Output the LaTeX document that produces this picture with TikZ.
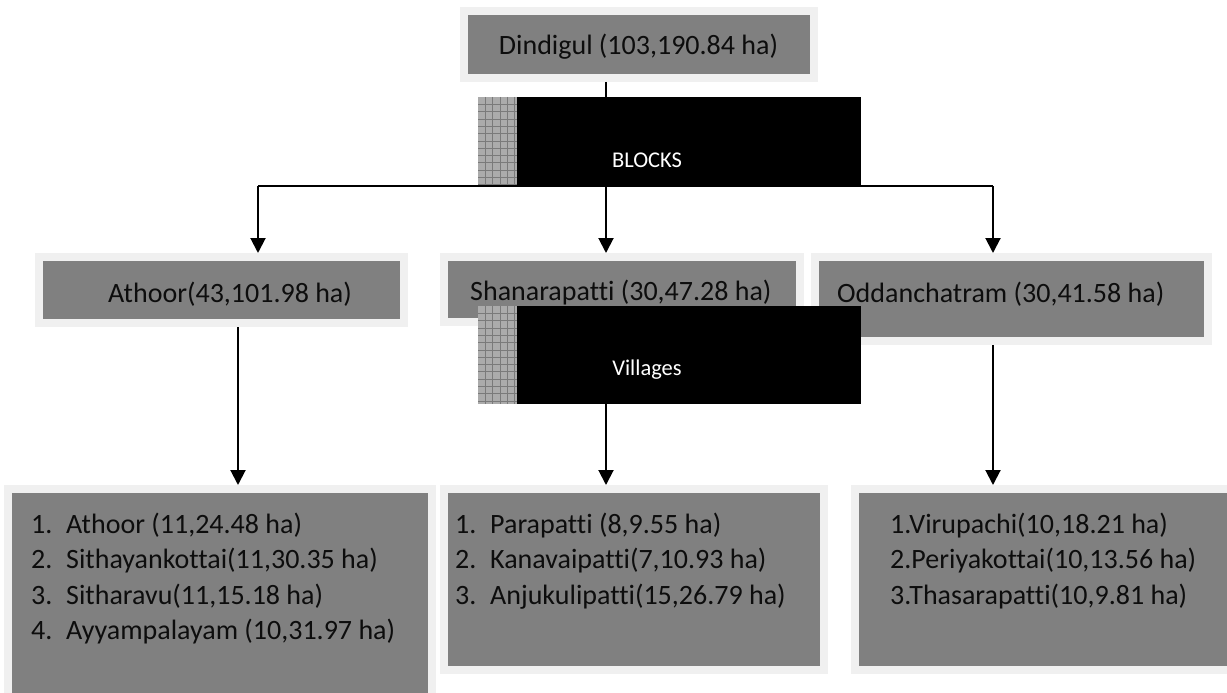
\documentclass[tikz,border=0pt]{standalone}
\usepackage{fontspec}
\setmainfont{Carlito}[Ligatures=NoCommon]
\usetikzlibrary{arrows.meta,positioning,calc}
\definecolor{boxgray}{HTML}{808080}
\definecolor{boxedge}{HTML}{F0F0F0}
\definecolor{hatch}{HTML}{ABABAB}
\definecolor{hatchline}{HTML}{7A7A7A}

\begin{document}
\begin{tikzpicture}[x=1pt,y=-1pt,
    box/.style={rectangle,draw=boxedge,line width=8pt,fill=boxgray,inner sep=0pt},
    bar/.style={rectangle,fill=black,inner sep=0pt},
    txt/.style={inner sep=0pt,text=black!95,font=\fontsize{28}{35.5}\selectfont},
    bartxt/.style={inner sep=0pt,text=white,font=\fontsize{22.5}{27}\selectfont},
    arr/.style={-{Triangle[length=15pt,width=15pt]},line width=2pt},
    ln/.style={line width=1.6pt}]
    \useasboundingbox (0,0) rectangle (1227,693);

    % Top box
    \node[box,minimum width=350.5pt,minimum height=66.5pt] (dindigul) at (638.75,44.75) {};

    % Block boxes
    \node[box,minimum width=364.5pt,minimum height=66pt] (athoor) at (221.25,290) {};
    \node[box,minimum width=355.5pt,minimum height=65pt] (shanar) at (621.75,289.5) {};
    \node[box,minimum width=393.5pt,minimum height=84pt] (oddan) at (1011.25,299) {};

    % Village boxes
    \node[box,minimum width=423.5pt,minimum height=235pt] (athoorv) at (219.75,606.5) {};
    \node[box,minimum width=380pt,minimum height=181pt] (shanarv) at (634,579.5) {};
    \node[box,minimum width=377pt,minimum height=181pt] (oddanv) at (1043.5,579.5) {};

    % Branch points
    \coordinate (split) at (606,186);
    \coordinate (bl) at (258,186);
    \coordinate (br) at (993,186);
    \coordinate (xl) at (238,0);

    % Connectors
    \draw[ln] (dindigul.south -| split) -- (split);
    \draw[ln] (bl) -- (br);
    \draw[arr] (bl) -- (bl |- athoor.north);
    \draw[arr] (split) -- (split |- shanar.north);
    \draw[arr] (br) -- (br |- oddan.north);
    \draw[arr] (athoor.south -| xl) -- (athoorv.north -| xl);
    \draw[arr] (oddan.south -| br) -- (oddanv.north -| br);

    % Banners
    \node[bar,minimum width=344pt,minimum height=88pt] (blocks) at (689,141) {};
    \node[bar,minimum width=344pt,minimum height=98pt] (villages) at (689,355) {};
    \draw[arr] (villages.south -| split) -- (shanarv.north -| split);
    \foreach \y/\h/\n in {97/185/12,306/404/13} {
        \fill[hatch] (478,\y) rectangle (517,\h);
        \foreach \k in {1,...,5}
            \draw[hatchline,line width=0.6pt] (478+7.3*\k,\y) -- (478+7.3*\k,\h);
        \foreach \k in {1,...,\n}
            \draw[hatchline,line width=0.6pt] (478,\y+7.3*\k) -- (517,\y+7.3*\k);
    }

    % Labels
    \node[txt,anchor=base] (dindigult) at (638.5,55) {Dindigul (103,190.84 ha)};
    \node[bartxt,anchor=base] (blockst) at (647,167) {BLOCKS};
    \node[txt,anchor=base west] (athoort) at (108,302) {Athoor(43,101.98 ha)};
    \node[txt,anchor=base west] (shanart) at (470,300) {Shanarapatti (30,47.28 ha)};
    \node[txt,anchor=base west] (oddant) at (837,302) {Oddanchatram (30,41.58 ha)};
    \node[bartxt,anchor=base] (villagest) at (647,375) {Villages};

    % Village lists (anchored on the last line)
    \node[txt,anchor=base west,align=left] (athoorvt) at (31,639.5)
        {\makebox[35pt][l]{1.}Athoor (11,24.48 ha)\\
         \makebox[35pt][l]{2.}Sithayankottai(11,30.35 ha)\\
         \makebox[35pt][l]{3.}Sitharavu(11,15.18 ha)\\
         \makebox[35pt][l]{4.}Ayyampalayam (10,31.97 ha)};
    \node[txt,anchor=base west,align=left] (shanarvt) at (455,604)
        {\makebox[35pt][l]{1.}Parapatti (8,9.55 ha)\\
         \makebox[35pt][l]{2.}Kanavaipatti(7,10.93 ha)\\
         \makebox[35pt][l]{3.}Anjukulipatti(15,26.79 ha)};
    \node[txt,anchor=base west,align=left] (oddanvt) at (890,604)
        {1.Virupachi(10,18.21 ha)\\
         2.Periyakottai(10,13.56 ha)\\
         3.Thasarapatti(10,9.81 ha)};
\end{tikzpicture}
\end{document}
